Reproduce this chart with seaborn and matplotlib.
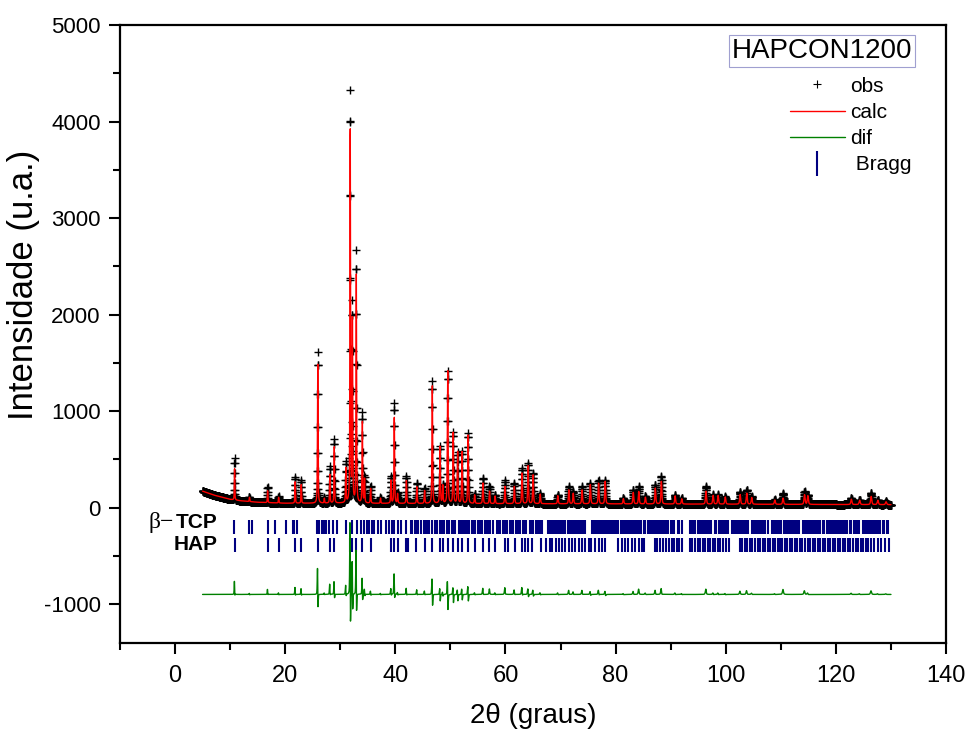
import numpy as np
import pandas as pd
import matplotlib
matplotlib.use('Agg')
import matplotlib.pyplot as plt
from matplotlib.lines import Line2D
from matplotlib.ticker import MultipleLocator
import seaborn as sns

sns.set_theme(style='ticks')
plt.rcParams['font.family'] = ['Liberation Sans', 'DejaVu Sans']
plt.rcParams['axes.unicode_minus'] = False
for k in ['text.color', 'axes.labelcolor', 'xtick.color', 'ytick.color', 'axes.edgecolor']:
    plt.rcParams[k] = 'black'

# posicoes dos picos (2theta), altura observada e calculada (acima do fundo)
peak_pos = [10.8, 13.5, 16.8, 18.8, 21.8, 22.9, 25.9, 27.1, 28.1, 28.9,
            31.0, 31.8, 32.2, 32.9, 34.0, 34.4, 35.5, 37.3, 39.2, 39.8,
            40.4, 42.0, 43.9, 45.3, 46.7, 48.1, 48.6, 49.5, 50.5, 51.3,
            52.1, 53.2, 54.4, 55.9, 57.1, 58.1, 59.9, 61.6, 63.0, 64.1,
            65.0, 66.3, 69.5, 71.5, 72.3, 73.9, 75.4, 76.9, 78.1, 81.4,
            83.2, 84.2, 85.4, 87.2, 88.3, 90.8, 92.0, 96.4, 97.7, 98.6,
            99.9, 102.6, 103.8, 104.7, 108.9, 110.4, 114.3, 114.9, 122.8, 124.3,
            126.4, 127.6, 129.1]
obs_height = [430, 50, 165, 70, 275, 235, 1570, 60, 380, 665,
              420, 4250, 2040, 2610, 935, 280, 175, 60, 280, 1040,
              110, 285, 210, 160, 1265, 590, 190, 1370, 730, 525,
              540, 725, 100, 265, 180, 90, 240, 215, 370, 420,
              320, 110, 95, 180, 130, 180, 215, 245, 250, 60,
              145, 180, 80, 200, 285, 95, 60, 185, 100, 100,
              80, 130, 150, 80, 50, 115, 135, 100, 65, 50,
              120, 50, 35]
calc_height = [330, 45, 125, 60, 225, 195, 1460, 50, 300, 590,
               360, 3900, 1900, 2390, 850, 250, 155, 55, 240, 900,
               100, 240, 175, 135, 1230, 595, 185, 1385, 740, 540,
               540, 715, 90, 215, 130, 80, 180, 180, 320, 395,
               300, 100, 85, 145, 110, 145, 200, 215, 235, 55,
               120, 130, 70, 165, 235, 85, 55, 135, 90, 90,
               75, 100, 115, 70, 45, 65, 100, 90, 55, 45,
               85, 45, 30]

# fundo
bg_pos = [5, 6, 7, 8, 10, 12, 15, 20, 30, 40, 60, 80, 100, 130]
bg_obs = [170, 150, 130, 115, 85, 70, 55, 45, 45, 42, 40, 38, 35, 30]

# reflexoes de Bragg
tcp_refl = [10.66, 13.5, 13.98, 16.94, 18.2, 20.1, 21.35, 21.65, 22.07,
            25.76, 26.2, 26.6, 27.0, 27.5, 28.0, 28.6, 29.5, 31.0, 32.2,
            33.1, 33.7, 34.3, 34.8, 35.2, 35.7, 36.2, 36.8, 37.4, 38.3,
            38.9, 39.4, 39.8, 40.4, 41.0, 41.9, 42.8,
            43.1, 43.5, 43.8, 44.2, 44.6, 45.2, 45.5, 45.8, 46.2, 46.6,
            47.2, 47.6, 48.2, 48.5, 48.8, 49.4, 49.8, 50.3, 50.6, 50.9,
            51.5, 51.9, 52.3, 52.7, 53.0, 53.3, 53.9, 54.2, 54.5, 55.1,
            55.4, 55.8, 56.3, 56.6, 56.9, 57.2, 57.8, 58.4, 58.7, 59.0,
            59.6, 59.9, 60.2, 60.8, 61.1, 61.4, 62.0, 62.3, 62.6, 63.2,
            63.5, 63.8, 64.4, 64.7, 65.0, 65.6, 65.9, 66.3, 66.6,
            67.8, 68.1, 68.5, 68.8, 69.1, 69.5, 69.9, 70.2, 70.5, 70.9,
            71.3, 71.6, 71.9, 72.3, 72.7, 73.0, 73.3, 73.7, 74.0, 74.4,
            75.7, 76.0, 76.4, 76.7, 77.0, 77.4, 77.8, 78.1, 78.4, 78.8,
            79.2, 79.5, 79.8, 80.2, 80.5, 80.9, 81.2, 81.6, 81.9, 82.3,
            82.6, 83.0, 83.3, 83.7, 84.0, 84.4, 84.7, 85.1, 85.4, 85.8,
            86.1, 86.5, 86.8, 87.2, 87.5, 87.9, 88.2, 88.6, 88.9, 89.3,
            89.6, 90.0, 90.3, 90.6, 91.3, 91.6, 92.0, 93.5, 93.8, 94.1,
            94.4, 95.0, 95.3, 95.7, 96.0, 96.4, 96.7, 97.0, 97.4, 98.0,
            98.3, 98.7, 99.0, 99.4, 99.7, 100.1, 100.4, 101.2, 101.5, 101.9,
            102.2, 102.6, 102.9, 103.3, 103.6, 104.0, 104.8, 105.1, 105.5, 105.8,
            106.2, 106.5, 106.9, 107.2, 107.6, 108.4, 108.7, 109.1, 109.4, 109.8,
            110.1, 110.5, 110.8, 111.2, 111.5, 111.9, 112.2, 112.6, 112.9, 113.3,
            114.1, 114.4, 114.8, 115.1, 115.5, 115.8, 116.2, 116.5, 116.9, 117.2,
            117.6, 117.9, 118.3, 118.6, 119.0, 119.3, 119.7, 120.0, 120.4, 120.7,
            121.1, 121.4, 121.8, 122.1, 122.5, 122.8, 123.2, 123.5, 123.9, 124.2,
            125.0, 125.3, 125.7, 126.0, 126.4, 126.7, 127.1, 127.4, 127.8, 128.1,
            128.5, 128.8, 129.2, 129.5]
hap_refl = [10.8, 16.8, 18.8, 21.8, 22.9, 25.9, 28.1, 28.9, 31.8, 32.2,
            32.9, 34.0, 35.5, 39.2, 39.8, 40.5, 42.0, 42.3, 43.8, 45.3,
            46.7, 48.1, 48.6, 49.5, 50.5, 51.3, 52.1, 53.2, 54.4, 55.9,
            57.1, 58.1, 59.9, 60.5, 61.7, 63.0, 63.5, 64.1, 64.9, 66.4,
            67.3, 68.1, 68.5, 69.1, 69.7, 70.3, 70.8, 71.5, 72.1, 72.7,
            73.3, 73.9, 74.5, 75.1, 75.6, 76.3, 76.9, 77.5, 78.1,
            80.5, 81.1, 81.7, 82.3, 82.9, 83.5, 84.2, 84.8, 85.2,
            87.1, 87.6, 88.1, 88.6, 89.1, 89.7, 90.2, 90.6, 91.1, 91.6,
            92.1, 93.5, 93.9, 94.4, 94.9, 95.3, 95.8, 96.3, 96.7, 97.2,
            97.6, 98.1, 98.6, 99.0, 99.5, 100.0, 100.5,
            102.6, 103.0, 103.5, 103.9, 104.4, 104.8, 105.3, 105.8, 106.2, 106.7,
            107.1, 107.6, 108.0, 108.5, 108.9, 109.4, 109.8, 110.3, 110.8, 111.2,
            111.7, 112.1, 112.6, 113.0, 113.5, 113.9, 114.4, 114.9, 115.3, 115.8,
            116.2, 116.7, 117.1, 117.6, 118.1, 118.5, 119.0, 119.4, 119.9, 120.3,
            120.8, 121.3, 121.7, 122.2, 122.6, 123.1, 123.6, 124.0, 124.5, 124.9,
            125.4, 125.8, 126.4, 126.9, 127.6, 128.2, 128.9, 129.7]

# perfil (pseudo-Voigt) montado a partir dos picos lidos
tt = np.arange(5.0, 130.0001, 0.02)
bg = np.interp(tt, bg_pos, bg_obs)


def perfil(alturas, desloc):
    y = np.zeros_like(tt)
    for p, h in zip(peak_pos, alturas):
        hw = 0.045 + 0.0006 * p
        u = ((tt - p - desloc) / hw) ** 2
        y += h * (0.5 / (1 + u) + 0.5 * np.exp(-np.log(2) * u))
    return y


obs = bg + perfil(obs_height, 0.0)
calc = bg + perfil(calc_height, 0.012)
df = pd.DataFrame({'2theta': tt, 'obs': obs, 'calc': calc, 'dif': obs - calc - 900})

fig = plt.figure(figsize=(9.69, 7.31), dpi=100)
ax = fig.add_axes([0.1238, 0.1208, 0.8525, 0.845])

sns.scatterplot(data=df, x='2theta', y='obs', marker='+', s=40, color='black',
                linewidth=1.0, ax=ax, legend=False, zorder=2)
sns.lineplot(data=df, x='2theta', y='calc', color='red', lw=1.0, ax=ax,
             estimator=None, sort=False, zorder=3)
sns.lineplot(data=df, x='2theta', y='dif', color='green', lw=1.0, ax=ax,
             estimator=None, sort=False, zorder=3)
ax.vlines(tcp_refl, -270, -130, color='#000080', lw=1.5)
ax.vlines(hap_refl, -460, -320, color='#000080', lw=1.5)

ax.text(7.8, -150, 'TCP', fontsize=15, fontweight='bold', ha='right', va='center')
ax.text(-0.3, -150, 'β−', fontsize=17, family=['Liberation Serif', 'DejaVu Serif'],
        ha='right', va='center')
ax.text(7.8, -385, 'HAP', fontsize=15, fontweight='bold', ha='right', va='center')

ax.set_xlim(-10, 140)
ax.set_ylim(-1400, 5000)
ax.xaxis.set_major_locator(MultipleLocator(20))
ax.xaxis.set_minor_locator(MultipleLocator(10))
ax.yaxis.set_major_locator(MultipleLocator(1000))
ax.yaxis.set_minor_locator(MultipleLocator(500))
ax.tick_params(which='both', direction='out', width=1.5, top=False, right=False)
ax.tick_params(which='major', length=8)
ax.tick_params(which='minor', length=5)
ax.tick_params(axis='y', labelsize=16, pad=6)
ax.tick_params(axis='x', labelsize=17, pad=8)
for sp in ax.spines.values():
    sp.set_linewidth(1.6)

ax.set_xlabel('2θ (graus)', fontsize=20)
ax.set_ylabel('Intensidade (u.a.)', fontsize=25)
ax.xaxis.set_label_coords(0.5, -0.098)
ax.yaxis.set_label_coords(-0.097, 0.579)

ax.text(0.85, 0.958, 'HAPCON1200', transform=ax.transAxes, fontsize=20,
        ha='center', va='center',
        bbox=dict(facecolor='white', edgecolor='#a0a0d0', lw=0.8, pad=2))

handles = [Line2D([], [], ls='none', marker='+', color='black', ms=6, mew=0.8),
           Line2D([], [], color='red', lw=1),
           Line2D([], [], color='green', lw=1),
           Line2D([], [], ls='none', marker='|', color='#000080', ms=18, mew=1.5)]
ax.legend(handles, ['obs', 'calc', 'dif', ' Bragg'], loc='upper right',
          bbox_to_anchor=(0.968, 0.93), frameon=False, fontsize=15,
          handlelength=2.6, handletextpad=0.25, labelspacing=0.35, borderaxespad=0)

fig.savefig('out.png', dpi=100)
